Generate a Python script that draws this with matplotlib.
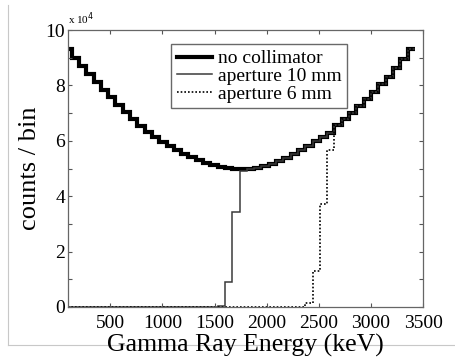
import matplotlib
matplotlib.use('Agg')
import matplotlib.pyplot as plt
from matplotlib.ticker import MultipleLocator, FuncFormatter
from matplotlib.lines import Line2D
import numpy as np

plt.rcParams['font.family'] = ['Liberation Serif', 'DejaVu Serif']

# energy bins (keV), 70 keV wide
bin_edges = np.arange(60, 3421, 70)

# counts per bin, no collimator
no_collimator = [93000, 90000, 87100, 84200, 81300, 78500, 75700, 73000,
                 70300, 67800, 65500, 63300, 61300, 59500, 58000, 56600,
                 55300, 54100, 53000, 52100, 51300, 50700, 50200, 49900,
                 49700, 49800, 50200, 50800, 51600, 52600, 53800, 55200,
                 56700, 58300, 59900, 61200, 63000, 65700, 67900, 70200,
                 72600, 75100, 77700, 80400, 83200, 86200, 89500, 93200]

# collimated spectra: nothing below the cut, then the same as open
aperture_10mm = [0] * 21 + [500, 9000, 34300, 49000] + no_collimator[25:]
aperture_6mm = [0] * 33 + [1500, 13000, 37200, 56700] + no_collimator[37:]

fig = plt.figure(figsize=(4.56, 3.62), dpi=100)
ax = fig.add_axes([0.149, 0.152, 0.779, 0.765])

ax.stairs(no_collimator, bin_edges, baseline=None, color='black', lw=3.0,
          label='no collimator')
ax.stairs(aperture_10mm, bin_edges, baseline=None, color='#3a3a3a', lw=1.1,
          label='aperture 10 mm')
ax.stairs(aperture_6mm, bin_edges, baseline=None, color='black', lw=1.2,
          linestyle=(0, (1, 1.2)), label='aperture 6 mm')

ax.set_xlim(95, 3500)
ax.set_ylim(0, 100000)
ax.xaxis.set_major_locator(MultipleLocator(500))
ax.yaxis.set_major_locator(MultipleLocator(20000))
ax.yaxis.set_minor_locator(MultipleLocator(10000))
ax.yaxis.set_major_formatter(FuncFormatter(lambda v, p: '%d' % round(v / 10000)))
ax.tick_params(which='both', direction='in', top=True, right=True,
               length=3, width=0.8, color='#555555', labelsize=14)
ax.tick_params(axis='x', pad=6)
ax.tick_params(axis='y', pad=2)
for s in ax.spines.values():
    s.set_color('#666666')
    s.set_linewidth(0.9)

ax.text(0.0, 1.012, r'x 10$^4$', transform=ax.transAxes, fontsize=8,
        ha='left', va='bottom')

ax.set_xlabel('Gamma Ray Energy (keV)', fontsize=18.5, labelpad=1)
ax.set_ylabel('counts / bin', fontsize=19, labelpad=3)

leg = ax.legend(loc='upper left', bbox_to_anchor=(0.29, 0.95), fontsize=14,
                frameon=True, fancybox=False, borderpad=0.3,
                labelspacing=0.0, handlelength=1.8, handletextpad=0.3,
                borderaxespad=0)
leg.get_frame().set_edgecolor('#444444')
leg.get_frame().set_linewidth(1.0)

# faint frame lines of the original screenshot
fig.add_artist(Line2D([8 / 456, 8 / 456], [1 - 5 / 362, 1 - 345 / 362],
                      transform=fig.transFigure, color='#c8c8c8', lw=0.8,
                      zorder=-1))
fig.add_artist(Line2D([8 / 456, 1.0], [1 - 345 / 362, 1 - 345 / 362],
                      transform=fig.transFigure, color='#c8c8c8', lw=0.8,
                      zorder=-1))

fig.savefig('out.png', dpi=100)
